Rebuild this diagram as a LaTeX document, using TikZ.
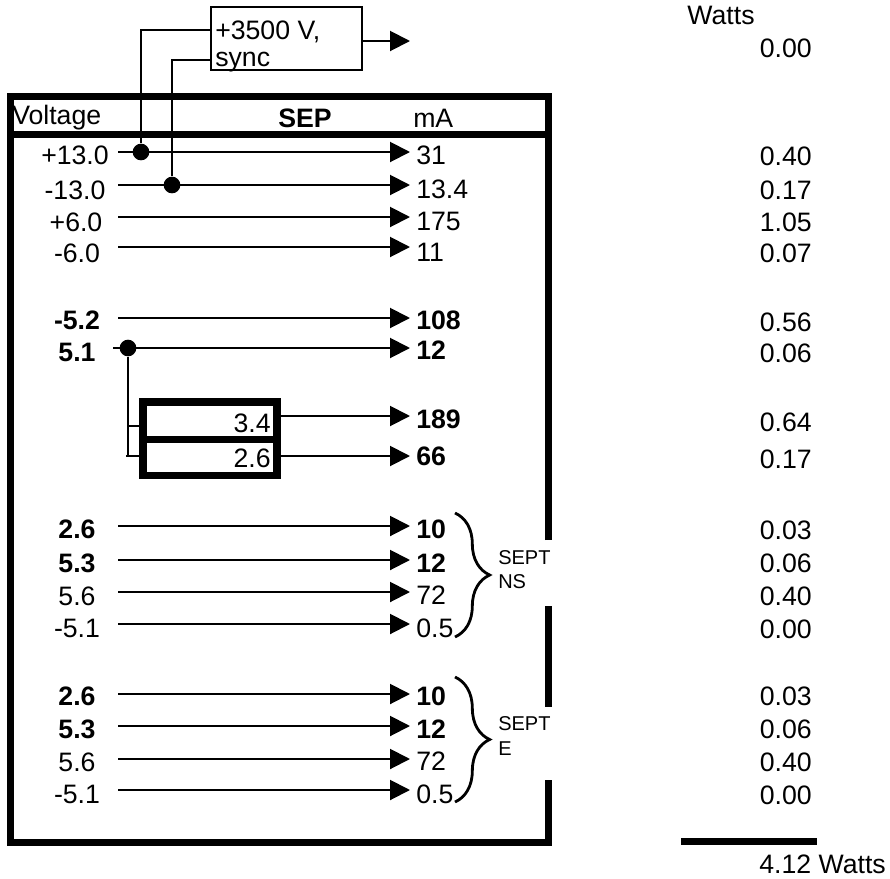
\documentclass[tikz,border=0pt]{standalone}
\usepackage{fontspec}
\setmainfont{Liberation Sans}
\usetikzlibrary{arrows.meta,decorations.pathreplacing}
\begin{document}
\begin{tikzpicture}[x=0.75pt,y=-0.75pt,
  txt/.style={inner sep=0pt,font=\fontsize{20}{23}\selectfont},
  btxt/.style={inner sep=0pt,font=\fontsize{20}{23}\selectfont\bfseries},
  stxt/.style={inner sep=0pt,font=\fontsize{15}{18}\selectfont},
  wire/.style={line width=1.5pt},
  arr/.style={line width=1.5pt,-{Triangle[length=15pt,width=15pt]}},
  frame/.style={line width=5.25pt},
  dot/.style={circle,fill=black,inner sep=0pt,minimum size=12.5pt},
  brc/.style={line width=2.1pt,decorate,decoration={brace,amplitude=26pt}}]
\useasboundingbox (0,0) rectangle (890,879);

% top HV box
\node[draw,line width=1.5pt,minimum width=113.25pt,minimum height=47.25pt,inner sep=0pt] (hv) at (286.5,38.5) {};
\node[txt,anchor=base west] (hvt1) at (215,39) {+3500 V,};
\node[txt,anchor=base west] (hvt2) at (215,66) {sync};
\coordinate (hvr) at (362,41);
\coordinate (hvo) at (410,41);
\draw[arr] (hvr) -- (hvo);
\coordinate (w1) at (211,30);
\coordinate (w2) at (211,60);

% main frame
\draw[frame] (548,540) -- (548,96.5) -- (10,96.5) -- (10,842.5) -- (548,842.5) -- (548,780);
\draw[frame] (548,606) -- (548,707);
\draw[frame] (10,134.5) -- (548,134.5);
\node[txt,anchor=west] (hVolt) at (12,118) {Voltage};
\node[btxt] (hSEP) at (305,118) {SEP};
\node[txt,anchor=west] (hmA) at (413,118) {mA};

% rows: start/end coordinates
\foreach \i/\y in {1/152,2/185,3/217,4/247,5/318,6/348,9/526,10/560,11/592,12/624,13/694,14/726,15/759,16/790}{
  \coordinate (s\i) at (118,\y);
  \coordinate (e\i) at (410,\y);
}
\coordinate (s7) at (281,416); \coordinate (e7) at (410,416);
\coordinate (s8) at (281,456); \coordinate (e8) at (410,456);
\foreach \i in {1,...,16}{ \draw[arr] (s\i) -- (e\i); }

% voltage labels
\node[txt] (v1) at (75,155) {+13.0};
\node[txt] (v2) at (75,190) {-13.0};
\node[txt] (v3) at (76,222) {+6.0};
\node[txt] (v4) at (77,253) {-6.0};
\node[btxt] (v5) at (77,320) {-5.2};
\node[btxt] (v6) at (77,352) {5.1};
\node[btxt] (v9) at (77,529) {2.6};
\node[btxt] (v10) at (77,563) {5.3};
\node[txt] (v11) at (77,596) {5.6};
\node[txt] (v12) at (77,628) {-5.1};
\node[btxt] (v13) at (77,696) {2.6};
\node[btxt] (v14) at (77,729) {5.3};
\node[txt] (v15) at (77,762) {5.6};
\node[txt] (v16) at (77,794) {-5.1};

% mA labels
\node[txt,anchor=west] (m1) at (416,155) {31};
\node[txt,anchor=west] (m2) at (416,189) {13.4};
\node[txt,anchor=west] (m3) at (416,221) {175};
\node[txt,anchor=west] (m4) at (416,252) {11};
\node[btxt,anchor=west] (m5) at (416,320) {108};
\node[btxt,anchor=west] (m6) at (416,350) {12};
\node[btxt,anchor=west] (m7) at (416,419) {189};
\node[btxt,anchor=west] (m8) at (416,456) {66};
\node[btxt,anchor=west] (m9) at (416,529) {10};
\node[btxt,anchor=west] (m10) at (416,563) {12};
\node[txt,anchor=west] (m11) at (416,595) {72};
\node[txt,anchor=west] (m12) at (416,628) {0.5};
\node[btxt,anchor=west] (m13) at (416,696) {10};
\node[btxt,anchor=west] (m14) at (416,729) {12};
\node[txt,anchor=west] (m15) at (416,761) {72};
\node[txt,anchor=west] (m16) at (416,794) {0.5};

% HV wires and dots
\node[dot] (d1) at (141,152) {};
\node[dot] (d2) at (172,185) {};
\draw[wire] (w1) -| (d1);
\draw[wire] (w2) -| (d2);

% 5.1 branch and regulator box
\coordinate (s6b) at (113,348);
\draw[wire] (s6b) -- (s6);
\node[dot] (d3) at (128,348) {};
\draw[frame,line width=5.6pt] (143,402) rectangle (277,475.5);
\draw[frame,line width=5.6pt] (143,439.5) -- (277,439.5);
\node[txt,anchor=east] (r1) at (271,423) {3.4};
\node[txt,anchor=east] (r2) at (271,458) {2.6};
\coordinate (b1) at (139.5,426);
\coordinate (b2) at (139.5,456);
\coordinate (bl) at (126,456);
\draw[wire] (d3) -- (d3 |- bl);
\draw[wire] (d3 |- b1) -- (b1);
\draw[wire] (bl) -- (b2);

% braces
\draw[brc] (455,513) -- (455,637);
\draw[brc] (455,677) -- (455,802);
\node[stxt,anchor=west] (g1a) at (498,558) {SEPT};
\node[stxt,anchor=west] (g1b) at (498,582) {NS};
\node[stxt,anchor=west] (g2a) at (498,724) {SEPT};
\node[stxt,anchor=west] (g2b) at (498,749) {E};

% watts column
\node[txt] (wh) at (721,15) {Watts};
\node[txt,anchor=east] (w0) at (812,48) {0.00};
\foreach \n/\y/\t in {1/156/0.40,2/190/0.17,3/222/1.05,4/253/0.07,5/322/0.56,6/353/0.06,7/422/0.64,8/459/0.17,9/530/0.03,10/563/0.06,11/596/0.40,12/629/0.00,13/696/0.03,14/729/0.06,15/762/0.40,16/795/0.00}{
  \node[txt,anchor=east] (wv\n) at (812,\y) {\t};
}
\coordinate (tb1) at (681,841.5);
\coordinate (tb2) at (817,841.5);
\draw[frame] (tb1) -- (tb2);
\node[txt,anchor=west] (wt) at (759,864) {4.12 Watts};
\end{tikzpicture}
\end{document}
